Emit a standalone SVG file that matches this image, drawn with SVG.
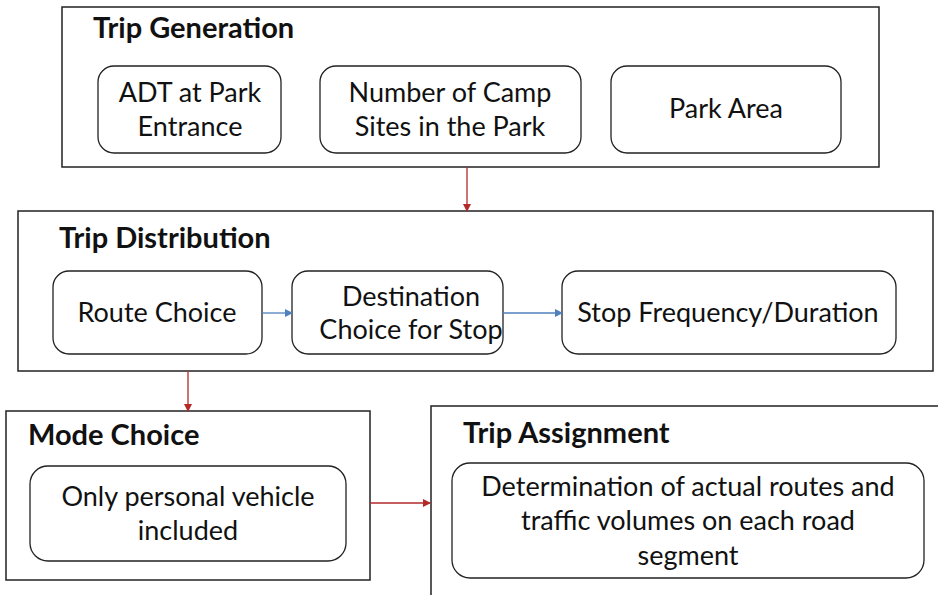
<svg xmlns="http://www.w3.org/2000/svg" width="938" height="595" viewBox="0 0 938 595">
<style>
.frame{fill:#fff;stroke:#222;stroke-width:1.5}
.box{fill:#fff;stroke:#222;stroke-width:1.3}
.t{font-family:Lato,"Liberation Sans",sans-serif;font-size:27px;fill:#111;text-anchor:middle}
.h{font-family:Lato,"Liberation Sans",sans-serif;font-size:29px;font-weight:bold;fill:#111}
.red{stroke:#B22A2A;stroke-width:1.3;fill:none}
.blue{stroke:#4F81BD;stroke-width:1.3;fill:none}
</style>
<defs>
<marker id="ar" markerWidth="8" markerHeight="8" refX="7" refY="4" orient="auto" markerUnits="userSpaceOnUse"><path d="M0,0 L8,4 L0,8 Z" fill="#B22A2A"/></marker>
<marker id="ab" markerWidth="8" markerHeight="8" refX="7" refY="4" orient="auto" markerUnits="userSpaceOnUse"><path d="M0,0 L8,4 L0,8 Z" fill="#4F81BD"/></marker>
</defs>
<rect width="938" height="595" fill="#fff"/>
<g id="trip-generation">
<rect class="frame" x="62" y="7" width="817" height="160"/>
<text class="h" x="93" y="38">Trip Generation</text>
</g>
<g id="adt"><rect class="box" x="98" y="66" width="183" height="87" rx="16"/><text class="t" x="190" y="102">ADT at Park</text><text class="t" x="190" y="136">Entrance</text></g>
<g id="camp"><rect class="box" x="320" y="66" width="261" height="87" rx="16"/><text class="t" x="450" y="102">Number of Camp</text><text class="t" x="450" y="136">Sites in the Park</text></g>
<g id="park-area"><rect class="box" x="611" y="66" width="230" height="87" rx="16"/><text class="t" x="726" y="118">Park Area</text></g>
<g id="trip-distribution">
<rect class="frame" x="18" y="211" width="915" height="160"/>
<text class="h" x="59" y="248">Trip Distribution</text>
</g>
<g id="route"><rect class="box" x="53" y="271" width="209" height="83" rx="16"/><text class="t" x="157" y="322">Route Choice</text></g>
<g id="destination"><rect class="box" x="292" y="271" width="211" height="83" rx="16"/><text class="t" x="411" y="306">Destination</text><text class="t" x="411" y="339">Choice for Stop</text></g>
<g id="stop"><rect class="box" x="562" y="271" width="334" height="83" rx="16"/><text class="t" x="728" y="322">Stop Frequency/Duration</text></g>
<g id="mode-choice">
<rect class="frame" x="6" y="411" width="364" height="169"/>
<text class="h" x="28" y="445">Mode Choice</text>
</g>
<g id="personal"><rect class="box" x="30" y="466" width="316" height="95" rx="18"/><text class="t" x="188" y="506">Only personal vehicle</text><text class="t" x="188" y="540">included</text></g>
<g id="trip-assignment">
<rect class="frame" x="431" y="406" width="520" height="200"/>
<text class="h" x="463" y="443">Trip Assignment</text>
</g>
<g id="determination"><rect class="box" x="452" y="463" width="472" height="115" rx="18"/><text class="t" x="688" y="496">Determination of actual routes and</text><text class="t" x="688" y="530">traffic volumes on each road</text><text class="t" x="688" y="565">segment</text></g>
<g id="connectors">
<line class="red" x1="467" y1="167" x2="467" y2="211" marker-end="url(#ar)"/>
<line class="red" x1="188" y1="371" x2="188" y2="411" marker-end="url(#ar)"/>
<line class="red" x1="370" y1="503" x2="430" y2="503" marker-end="url(#ar)"/>
<line class="blue" x1="262" y1="313" x2="292" y2="313" marker-end="url(#ab)"/>
<line class="blue" x1="503" y1="313" x2="562" y2="313" marker-end="url(#ab)"/>
</g>
</svg>
